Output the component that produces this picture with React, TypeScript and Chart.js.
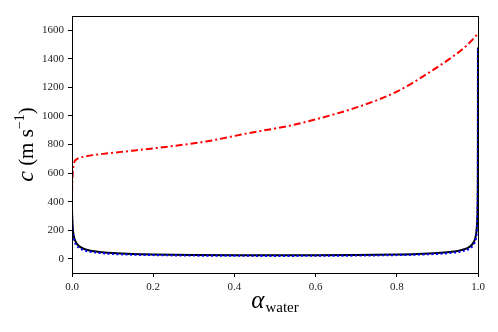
import React, { useEffect, useRef } from "react";
import { Chart, registerables } from "chart.js";

Chart.register(...registerables);

// Volume fraction of water (x axis)
const alphaWood: number[] = [
  0, 0.001, 0.002, 0.004, 0.006, 0.01, 0.015, 0.02, 0.03, 0.05, 0.075, 0.1,
  0.15, 0.2, 0.3, 0.4, 0.5, 0.6, 0.7, 0.8, 0.85, 0.9, 0.93, 0.95, 0.97, 0.98,
  0.99, 0.995, 0.998, 0.999, 0.9995, 0.9999, 1.0,
];
// Solid black curve (m/s)
const speedBlack: number[] = [
  343, 253, 210, 165, 140, 113, 94, 82.5, 68, 54, 45, 39.5, 33, 29.6, 26,
  24.2, 23.7, 24.2, 26, 29.7, 33.3, 39.6, 46.5, 54.5, 69.6, 84.7, 119, 167,
  262, 364, 500, 927, 1480,
];
// Dotted blue curve (m/s)
const speedBlue: number[] = [
  300, 220, 183, 144, 122, 98, 82, 72, 59, 47, 39, 34, 29, 26, 22.5, 21,
  20.5, 21, 22.5, 26, 29, 34.5, 40.5, 47, 60, 73, 103, 146, 228, 317, 435,
  806, 1480,
];
// Dash-dot red curve
const alphaRed: number[] = [
  0, 0.001, 0.002, 0.004, 0.007, 0.01, 0.015, 0.03, 0.07, 0.15, 0.24, 0.33,
  0.43, 0.545, 0.65, 0.72, 0.8, 0.88, 0.93, 0.965, 0.99, 1.0,
];
const speedRed: number[] = [
  460, 560, 610, 655, 685, 693, 703, 715, 732, 757, 786, 821, 877, 937, 1015,
  1078, 1170, 1305, 1400, 1475, 1545, 1580,
];

const xTicks: number[] = [0, 0.2, 0.4, 0.6, 0.8, 1.0];
const yTicks: number[] = [0, 200, 400, 600, 800, 1000, 1200, 1400, 1600];

const SERIF = "'Liberation Serif', 'DejaVu Serif', serif";

const titlePlugin = {
  id: "mathTitles",
  afterDatasetsDraw(chart: any) {
    const { ctx, chartArea } = chart;
    ctx.save();
    // frame (spines)
    ctx.strokeStyle = "#000";
    ctx.lineWidth = 1;
    ctx.strokeRect(
      Math.round(chartArea.left) + 0.5,
      Math.round(chartArea.top) + 0.5,
      Math.round(chartArea.right - chartArea.left),
      Math.round(chartArea.bottom - chartArea.top)
    );
    ctx.restore();
  },
  afterDraw(chart: any) {
    const { ctx, chartArea } = chart;
    ctx.save();
    ctx.fillStyle = "#000";
    ctx.textBaseline = "alphabetic";
    ctx.textAlign = "left";

    // X title: alpha_water
    const cx = (chartArea.left + chartArea.right) / 2;
    const fA = `italic 25px ${SERIF}`;
    const fW = `15px ${SERIF}`;
    ctx.font = fA;
    const wA = ctx.measureText("α").width;
    ctx.font = fW;
    const wW = ctx.measureText("water").width;
    const total = wA + 1 + wW;
    let x0 = cx - total / 2;
    ctx.font = fA;
    ctx.fillText("α", x0, 308);
    ctx.font = fW;
    ctx.fillText("water", x0 + wA + 1, 312);

    // Y title: c (m s^-1), rotated
    const cy = (chartArea.top + chartArea.bottom) / 2;
    ctx.translate(33, cy);
    ctx.rotate(-Math.PI / 2);
    const fC = `italic 24px ${SERIF}`;
    const fM = `21px ${SERIF}`;
    const fS = `14px ${SERIF}`;
    const parts = [
      { t: "c", f: fC, dy: 0 },
      { t: " (m s", f: fM, dy: 0 },
      { t: "−1", f: fS, dy: -9 },
      { t: ")", f: fM, dy: 0 },
    ];
    let tw = 0;
    const widths: number[] = [];
    for (const p of parts) {
      ctx.font = p.f;
      const w = ctx.measureText(p.t).width;
      widths.push(w);
      tw += w;
    }
    let px = -tw / 2;
    parts.forEach((p, i) => {
      ctx.font = p.f;
      ctx.fillText(p.t, px, p.dy);
      px += widths[i];
    });
    ctx.restore();
  },
};

export default function App() {
  const ref = useRef<HTMLCanvasElement | null>(null);

  useEffect(() => {
    document.body.style.margin = "0";
    const canvas = ref.current;
    if (!canvas) return;
    const chart = new Chart(canvas, {
      type: "line",
      data: {
        datasets: [
          {
            label: "red",
            data: alphaRed.map((a, i) => ({ x: a, y: speedRed[i] })),
            borderColor: "#ff0000",
            borderWidth: 2,
            borderDash: [7, 3, 2, 3],
            pointRadius: 0,
            cubicInterpolationMode: "monotone",
            order: 3,
          },
          {
            label: "black",
            data: alphaWood.map((a, i) => ({ x: a, y: speedBlack[i] })),
            borderColor: "#000000",
            borderWidth: 2,
            pointRadius: 0,
            cubicInterpolationMode: "monotone",
            order: 2,
          },
          {
            label: "blue",
            data: alphaWood.map((a, i) => ({ x: a, y: speedBlue[i] })),
            borderColor: "#0000ff",
            borderWidth: 2.2,
            borderDash: [2, 2.5],
            pointRadius: 0,
            cubicInterpolationMode: "monotone",
            order: 1,
          },
        ],
      },
      options: {
        animation: false,
        responsive: false,
        maintainAspectRatio: false,
        devicePixelRatio: 1,
        parsing: false as any,
        layout: { padding: { left: 10, right: 20, top: 16, bottom: 19 } },
        plugins: {
          legend: { display: false },
          tooltip: { enabled: false },
          title: { display: false },
        },
        scales: {
          x: {
            type: "linear",
            min: 0,
            max: 1,
            afterBuildTicks: (s: any) => {
              s.ticks = xTicks.map((v) => ({ value: v }));
            },
            afterFit: (s: any) => {
              s.height = 40;
            },
            ticks: {
              font: { family: SERIF, size: 11 },
              color: "#222",
              padding: 4,
              maxRotation: 0,
              callback: (v: any) => Number(v).toFixed(1),
            },
            grid: {
              drawOnChartArea: false,
              drawTicks: true,
              tickLength: 4,
              color: "#000",
            },
            border: { display: true, color: "#000", width: 1 },
          },
          y: {
            type: "linear",
            min: -100,
            max: 1700,
            afterBuildTicks: (s: any) => {
              s.ticks = yTicks.map((v) => ({ value: v }));
            },
            afterFit: (s: any) => {
              s.width = 62;
            },
            ticks: {
              font: { family: SERIF, size: 11 },
              color: "#222",
              padding: 4,
              callback: (v: any) => String(v),
            },
            grid: {
              drawOnChartArea: false,
              drawTicks: true,
              tickLength: 4,
              color: "#000",
            },
            border: { display: true, color: "#000", width: 1 },
          },
        },
      } as any,
      plugins: [titlePlugin],
    });
    return () => chart.destroy();
  }, []);

  return (
    <div style={{ width: 498, height: 332 }}>
      <canvas ref={ref} width={498} height={332} style={{ display: "block" }} />
    </div>
  );
}
